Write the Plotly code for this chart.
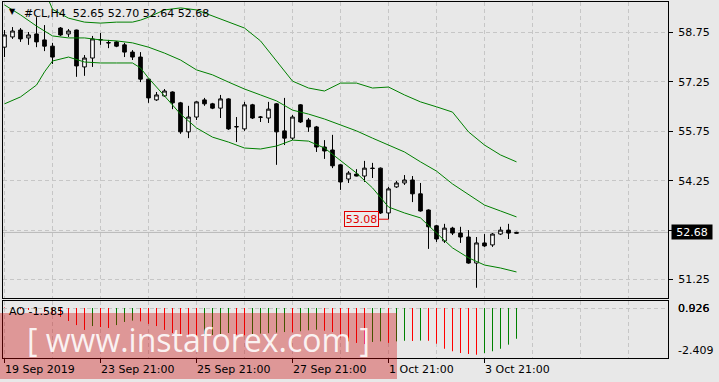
import plotly.graph_objects as go

# ---------------- data ----------------
bar_index = list(range(65))
opens = [58.30, 58.61, 58.82, 58.58, 58.70, 58.52, 58.33, 58.88, 58.70, 58.82,
         57.70, 57.97, 58.52, 58.44, 58.46, 58.37, 58.15, 58.00, 57.33, 56.70,
         56.82, 56.94, 56.61, 55.73, 56.18, 56.70, 56.58, 56.45, 56.73, 55.88,
         55.82, 56.55, 56.17, 56.15, 56.58, 55.76, 55.54, 56.55, 56.09, 55.88,
         55.27, 55.18, 54.73, 54.30, 54.45, 54.39, 54.63, 54.63, 53.27, 54.06,
         54.18, 54.27, 53.85, 53.36, 52.88, 52.42, 52.81, 52.66, 52.54, 51.75,
         52.36, 52.30, 52.63, 52.75, 52.65]
highs = [58.82, 58.91, 58.88, 58.76, 59.21, 58.97, 58.43, 58.91, 58.85, 58.83,
         58.06, 58.64, 58.73, 58.52, 58.49, 58.43, 58.21, 58.15, 57.34, 56.94,
         57.03, 56.96, 56.64, 56.52, 56.66, 56.76, 56.61, 56.85, 56.75, 56.18,
         56.64, 56.58, 56.21, 56.64, 56.60, 56.76, 56.24, 56.57, 56.15, 55.91,
         55.48, 55.64, 54.75, 54.54, 54.60, 54.85, 54.79, 54.65, 54.06, 54.24,
         54.42, 54.39, 54.18, 53.38, 52.91, 52.94, 52.85, 52.85, 52.75, 52.54,
         52.63, 52.66, 52.85, 52.94, 52.70]
lows = [58.00, 58.55, 58.46, 58.37, 58.30, 58.18, 57.79, 58.64, 58.61, 57.40,
        57.43, 57.70, 58.37, 58.27, 58.30, 58.00, 57.91, 57.24, 56.61, 56.67,
        56.79, 56.42, 55.67, 55.54, 56.09, 56.52, 56.42, 56.15, 55.79, 55.42,
        55.76, 56.12, 56.03, 56.00, 54.73, 55.33, 55.48, 56.00, 55.73, 55.12,
        54.91, 54.63, 53.97, 54.18, 54.38, 54.21, 54.33, 53.24, 53.08, 54.03,
        54.12, 53.60, 53.31, 52.18, 52.39, 52.36, 52.60, 52.36, 51.73, 51.00,
        52.24, 52.24, 52.60, 52.48, 52.64]
closes = [58.67, 58.79, 58.55, 58.67, 58.46, 58.33, 58.00, 58.67, 58.79, 57.73,
          57.97, 58.55, 58.53, 58.43, 58.33, 58.15, 58.00, 57.33, 56.76, 56.85,
          56.97, 56.61, 55.73, 56.18, 56.64, 56.58, 56.45, 56.73, 55.82, 55.89,
          56.55, 56.15, 56.18, 56.42, 55.73, 55.54, 56.18, 56.03, 55.88, 55.27,
          55.15, 54.70, 54.21, 54.48, 54.39, 54.63, 54.62, 53.27, 54.00, 54.18,
          54.27, 53.85, 53.33, 52.85, 52.48, 52.81, 52.66, 52.54, 51.75, 52.36,
          52.27, 52.63, 52.75, 52.66, 52.68]

# Bollinger bands
bb_mid_x = list(range(0, 65, 2))
bb_mid = [59.58, 59.28, 58.94, 58.64, 58.58, 58.58, 58.52, 58.49, 58.43, 58.30,
          58.12, 57.91, 57.61, 57.46, 57.24, 57.03, 56.85, 56.67, 56.39, 56.27,
          56.12, 55.94, 55.76, 55.54, 55.33, 55.12, 54.82, 54.54, 54.15, 53.82,
          53.51, 53.33, 53.15]
bb_low_x = [0, 2, 4, 5, 6, 8, 10, 12, 14, 16, 17, 18] + list(range(20, 65, 2))
bb_low = [56.58, 56.79, 57.15, 57.55, 57.88, 58.00, 57.85, 57.82, 57.82, 57.82,
          57.67, 57.36, 56.82, 56.27, 55.85, 55.57, 55.42, 55.24, 55.21, 55.30,
          55.48, 55.45, 55.24, 54.85, 54.48, 54.03, 53.45, 53.27, 53.12, 52.66,
          52.21, 51.91, 51.69, 51.60, 51.48]
bb_up_x = [4, 5, 6, 8, 10, 12, 14, 16, 17, 18] + list(range(20, 65, 2))
bb_up = [60.70, 60.03, 59.45, 59.18, 59.06, 59.03, 59.06, 59.06, 59.12, 59.21,
         59.43, 59.49, 59.43, 59.24, 59.06, 58.88, 58.49, 57.88, 57.27, 57.06,
         56.97, 57.21, 57.21, 57.06, 57.09, 56.85, 56.64, 56.49, 56.33, 55.73,
         55.33, 55.03, 54.82]

# Awesome Oscillator
ao = [0.026, -0.03, -0.06, -0.10, -0.14, -0.20, -0.28, -0.46, -0.67, -0.88,
      -1.13, -0.93, -0.98, -1.03, -0.88, -0.72, -0.65, -0.69, -0.82, -0.93,
      -1.13, -1.29, -1.44, -1.49, -1.51, -1.44, -1.39, -1.34, -1.29, -1.38,
      -1.41, -1.34, -1.32, -1.30, -1.27, -1.24, -1.25, -1.20, -1.15, -1.12,
      -1.17, -1.24, -1.51, -1.72, -1.80, -1.86, -1.75, -1.72, -1.80, -1.72,
      -1.69, -1.70, -1.68, -1.69, -1.84, -2.10, -2.23, -2.32, -2.37, -2.409,
      -2.32, -2.23, -2.10, -1.89, -1.585]

price_ticks = [51.25, 52.75, 54.25, 55.75, 57.25, 58.75]
price_tick_text = ["51.25", "", "54.25", "55.75", "57.25", "58.75"]
date_ticks = [0, 12, 24, 36, 48, 60]
date_labels = ["19 Sep 2019", "23 Sep 21:00", "25 Sep 21:00",
               "27 Sep 21:00", "1 Oct 21:00", "3 Oct 21:00"]
marked_bar = 48
symbol = "#CL,H4"
watermark = "[ www.instaforex.com ]"

# ---------------- figure ----------------
FONT = "DejaVu Sans"
BG = "#e8e8e8"
GRID = "#c6c6c6"
DASH = "4px,3px"

fig = go.Figure()
fig.add_trace(go.Candlestick(
    x=bar_index, open=opens, high=highs, low=lows, close=closes,
    xaxis="x", yaxis="y", whiskerwidth=0, showlegend=False, hoverinfo="skip",
    increasing=dict(line=dict(color="black", width=1), fillcolor="white"),
    decreasing=dict(line=dict(color="black", width=1), fillcolor="black"),
))
for bx, by in ((bb_up_x, bb_up), (bb_mid_x, bb_mid), (bb_low_x, bb_low)):
    fig.add_trace(go.Scatter(x=bx, y=by, mode="lines", xaxis="x", yaxis="y",
                             line=dict(color="#008000", width=1),
                             showlegend=False, hoverinfo="skip"))

# AO histogram as 1px vertical segments, coloured by direction
seg = {"#008000": ([], []), "#ff0000": ([], [])}
for i, v in enumerate(ao):
    col = "#008000" if i > 0 and v > ao[i - 1] else "#ff0000"
    sx, sy = seg[col]
    sx += [bar_index[i], bar_index[i], None]
    sy += [0, v, None]
for col, (sx, sy) in seg.items():
    fig.add_trace(go.Scatter(x=sx, y=sy, mode="lines", xaxis="x2", yaxis="y2",
                             line=dict(color=col, width=1),
                             showlegend=False, hoverinfo="skip"))

W, H = 719, 382
L, R, T, B = 3, 51, 2, 24
PH = H - T - B          # 356
PW = W - L - R          # 665


def px_x(p):
    return (p - L) / PW


def px_y(p):
    return (H - B - p) / PH


axis_common = dict(showline=True, mirror=True, linecolor="black", linewidth=1,
                   zeroline=False, fixedrange=True)

XR = [-0.1875, 82.9375]

fig.update_layout(
    width=W, height=H, autosize=False,
    margin=dict(l=L, r=R, t=T, b=B, pad=0),
    paper_bgcolor=BG, plot_bgcolor=BG,
    font=dict(family=FONT, size=11, color="black"),
    boxgap=0.35,
    xaxis=dict(domain=[0, 1], anchor="y", range=XR,
               tickmode="linear", tick0=0, dtick=6, showticklabels=False,
               ticks="", showgrid=True, gridcolor=GRID, griddash=DASH,
               rangeslider=dict(visible=False), **axis_common),
    yaxis=dict(domain=[px_y(298), 1], anchor="x", side="right",
               range=[50.69, 59.67], tickmode="array", tickvals=price_ticks,
               ticktext=price_tick_text, ticks="outside", ticklen=4,
               tickcolor="black", ticklabelstandoff=3,
               tickfont=dict(family=FONT, size=11, color="black"),
               showgrid=True, gridcolor=GRID, griddash=DASH, **axis_common),
    xaxis2=dict(domain=[0, 1], anchor="y2", matches="x",
                tickmode="array", tickvals=date_ticks,
                ticktext=[""] * len(date_ticks), ticks="outside", ticklen=4,
                tickcolor="black", showticklabels=False,
                showgrid=True, gridcolor=GRID, griddash=DASH,
                minor=dict(tickmode="linear", tick0=0, dtick=6, showgrid=True,
                           gridcolor=GRID, griddash=DASH, ticks=""),
                **axis_common),
    yaxis2=dict(domain=[0, px_y(301)], anchor="x2", side="right",
                range=[-2.577, 0.361], tickmode="array", tickvals=[0],
                showticklabels=False, ticks="", showgrid=True,
                gridcolor=GRID, griddash=DASH, **axis_common),
)

shapes = [
    dict(type="line", xref="paper", x0=0, x1=1, yref="y",
         y0=closes[-1], y1=closes[-1], line=dict(color="#b8b8b8", width=1),
         layer="below"),
    dict(type="rect", xref="paper", yref="paper",
         x0=px_x(0), x1=px_x(397), y0=px_y(379), y1=px_y(313),
         fillcolor="rgba(204,0,0,0.35)", line=dict(width=0), layer="above"),
]
fig.update_layout(shapes=shapes)

ann = []
# title
ann.append(dict(xref="paper", yref="paper", x=px_x(7), y=px_y(12),
                xanchor="left", yanchor="middle", showarrow=False,
                text="\u25bc", font=dict(family=FONT, size=8, color="black")))
ann.append(dict(xref="paper", yref="paper", x=px_x(22), y=px_y(13),
                xanchor="left", yanchor="middle", showarrow=False,
                text=f"{symbol}\u00a0\u00a0{opens[-1]:.2f} {highs[-1]:.2f} "
                     f"{lows[-1]:.2f} {closes[-1]:.2f}",
                font=dict(family=FONT, size=11, color="black")))
# AO label
ann.append(dict(xref="paper", yref="paper", x=px_x(7), y=px_y(311),
                xanchor="left", yanchor="middle", showarrow=False,
                text=f"AO {ao[-1]:.3f}",
                font=dict(family=FONT, size=11, color="black")))
# AO scale labels
for t in ("0.926", f"{max(ao):.3f}"):
    ann.append(dict(xref="paper", yref="paper", x=px_x(676), y=px_y(308),
                    xanchor="left", yanchor="middle", showarrow=False, text=t,
                    font=dict(family=FONT, size=11, color="black")))
ann.append(dict(xref="paper", yref="paper", x=px_x(676), y=px_y(350),
                xanchor="left", yanchor="middle", showarrow=False,
                text=f"{min(ao):.3f}",
                font=dict(family=FONT, size=11, color="black")))
# current price box
ann.append(dict(xref="paper", yref="y", x=px_x(671), y=closes[-1],
                xanchor="left", yanchor="middle", showarrow=False,
                text=f"{closes[-1]:.2f}", bgcolor="black", width=40, height=14,
                borderpad=0, font=dict(family=FONT, size=11, color="white")))
# marked low
ann.append(dict(xref="x", yref="y", x=marked_bar, y=lows[marked_bar],
                ax=-27, ay=0, showarrow=True, arrowhead=0, arrowwidth=1,
                arrowcolor="#e00000", text=f"{lows[marked_bar]:.2f}",
                bordercolor="#e00000", borderwidth=1, borderpad=0,
                bgcolor="#ececec", width=33, height=14,
                font=dict(family=FONT, size=11, color="#e00000")))
# date labels
for xv, lab in zip(date_ticks, date_labels):
    ann.append(dict(xref="x2", yref="paper", x=xv, y=px_y(369),
                    xanchor="left", yanchor="middle", xshift=-2,
                    showarrow=False, text=lab,
                    font=dict(family=FONT, size=11, color="black")))
# watermark text
ann.append(dict(xref="paper", yref="paper", x=px_x(198), y=px_y(339),
                xanchor="center", yanchor="middle", showarrow=False,
                text=watermark, height=36,
                font=dict(family="Open Sans", size=32,
                          color="rgba(255,255,255,0.88)")))
fig.update_layout(annotations=ann)

fig.write_html("out.html")
